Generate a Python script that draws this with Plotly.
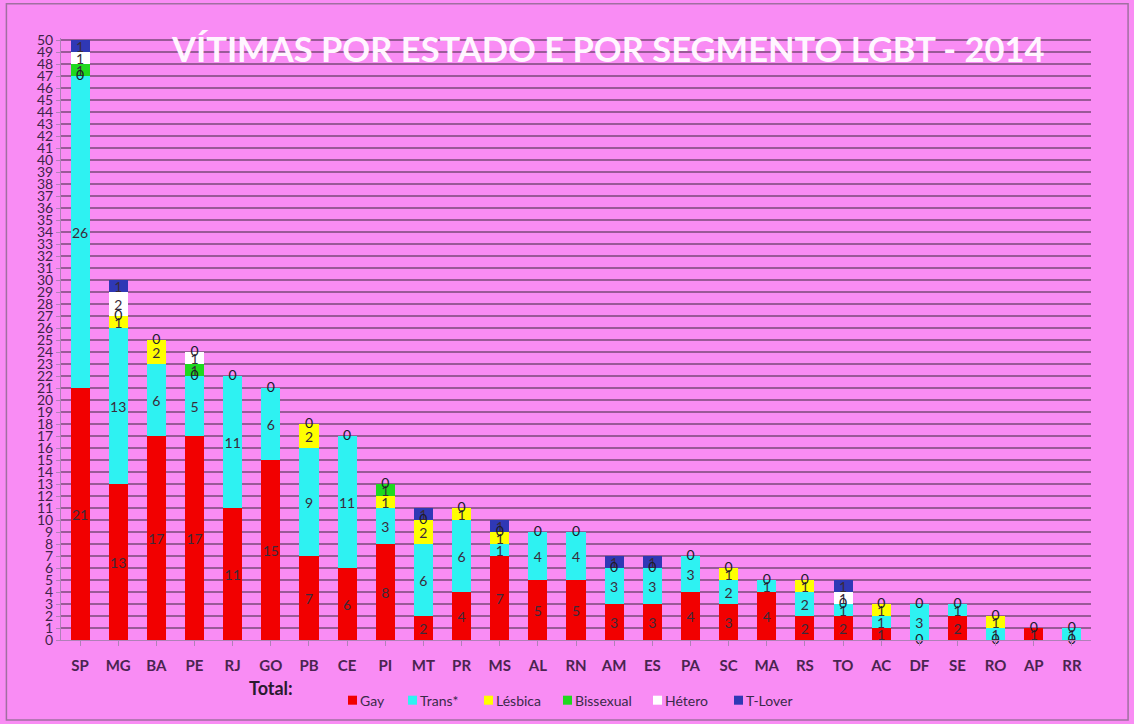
import plotly.graph_objects as go

estados = ["SP","MG","BA","PE","RJ","GO","PB","CE","PI","MT","PR","MS","AL","RN",
           "AM","ES","PA","SC","MA","RS","TO","AC","DF","SE","RO","AP","RR"]
gay       = [21,13,17,17,11,15,7,6,8,2,4,7,5,5,3,3,4,3,4,2,2,1,0,2,0,1,0]
trans     = [26,13,6,5,11,6,9,11,3,6,6,1,4,4,3,3,3,2,1,2,1,1,3,1,1,0,1]
lesbica   = [0,1,2,0,0,0,2,0,1,2,1,1,0,0,0,0,0,1,0,1,0,1,0,0,1,0,0]
bissexual = [1,0,0,1,0,0,0,0,1,0,0,0,0,0,0,0,0,0,0,0,0,0,0,0,0,0,0]
hetero    = [1,2,0,1,0,0,0,0,0,0,0,0,0,0,0,0,0,0,0,0,1,0,0,0,0,0,0]
tlover    = [1,1,0,0,0,0,0,0,0,1,0,1,0,0,1,1,0,0,0,0,1,0,0,0,0,0,0]

series = [("Gay", gay, "#F20000"), ("Trans*", trans, "#2EF2F2"),
          ("Lésbica", lesbica, "#FFFF00"), ("Bissexual", bissexual, "#1FD81F"),
          ("Hétero", hetero, "#FFFFFF"), ("T-Lover", tlover, "#2F38B5")]

FONT = "Lato, Open Sans, sans-serif"

fig = go.Figure()
for name, vals, col in series:
    fig.add_trace(go.Bar(
        x=estados, y=vals, name=name, showlegend=False,
        marker=dict(color=col, line=dict(width=0)),
        text=[str(v) if v > 0 else "" for v in vals],
        textposition="inside", insidetextanchor="middle", textangle=0,
        textfont=dict(family=FONT, size=14, color="#3a2a3a"),
        cliponaxis=False,
    ))

# zero-value labels at their stacked position (one per distinct position)
zx, zy = [], []
for i, est in enumerate(estados):
    base = 0
    seen = set()
    for name, vals, col in series:
        if vals[i] == 0 and base not in seen:
            seen.add(base)
            zx.append(est)
            zy.append(base)
        base += vals[i]
fig.add_trace(go.Scatter(
    x=zx, y=zy, mode="text", text=["0"] * len(zx), showlegend=False,
    textfont=dict(family=FONT, size=14, color="#1a1a2a"),
    hoverinfo="skip", cliponaxis=False,
))

bg = "#F98CF4"
fig.update_layout(
    width=1134, height=724,
    barmode="stack", bargap=0.5,
    paper_bgcolor=bg, plot_bgcolor=bg,
    margin=dict(l=61, r=43, t=38, b=84),
    uniformtext=dict(minsize=12, mode="show"),
    showlegend=False,
    xaxis=dict(tickfont=dict(family=FONT, size=15, color="#4a2450", weight="bold"),
               showgrid=False, showline=True, linecolor="#b080b8", linewidth=1,
               ticks="outside", ticklen=5, tickcolor="#b080b8", ticklabelstandoff=7,
               range=[-0.5, 26.5]),
    yaxis=dict(range=[0, 50.2], dtick=1, tick0=0,
               tickfont=dict(family=FONT, size=14, color="#3e2448"),
               showgrid=True, gridcolor="#9a5a98", gridwidth=1.5,
               showline=True, linecolor="#b080b8", ticks="outside", ticklen=4,
               tickcolor="#b080b8", zeroline=False),
    font=dict(family=FONT),
)

# legend drawn as square marker + label, marker close to label as in the original
legend_px = [348, 408, 484, 563, 653, 734]
for (name, vals, col), px in zip(series, legend_px):
    fig.add_shape(type="rect", xref="paper", yref="paper",
                  x0=(px - 61) / 1030, x1=(px + 9 - 61) / 1030,
                  y0=-0.1 - 4.5 / 602, y1=-0.1 + 4.5 / 602,
                  fillcolor=col, line=dict(width=0))
    fig.add_annotation(
        text=name, xref="paper", yref="paper", x=(px + 10 - 61) / 1030, y=-0.1,
        xanchor="left", yanchor="middle", showarrow=False,
        font=dict(family=FONT, size=14, color="#3a2a4a"))

fig.add_annotation(text="<b>VÍTIMAS POR ESTADO E POR SEGMENTO LGBT - 2014</b>",
                   xref="paper", yref="paper", x=0.531, y=0.983, xanchor="center", yanchor="middle",
                   showarrow=False, font=dict(family=FONT, size=34.5, color="#FFF6FF"))
fig.add_annotation(text="<b>Total:</b>", xref="paper", yref="paper", x=0.181, y=-0.08,
                   xanchor="left", yanchor="middle", showarrow=False,
                   font=dict(family=FONT, size=18, color="#2a1a2e"))
fig.add_shape(type="rect", xref="paper", yref="paper", x0=-0.053, x1=1.036, y0=-0.133, y1=1.057,
              line=dict(color="#a070a0", width=1.5), fillcolor="rgba(0,0,0,0)", layer="below")

fig.write_html("out.html", config={"displayModeBar": False},
               post_script="document.body.style.margin='0';document.body.style.background='%s';" % bg)
